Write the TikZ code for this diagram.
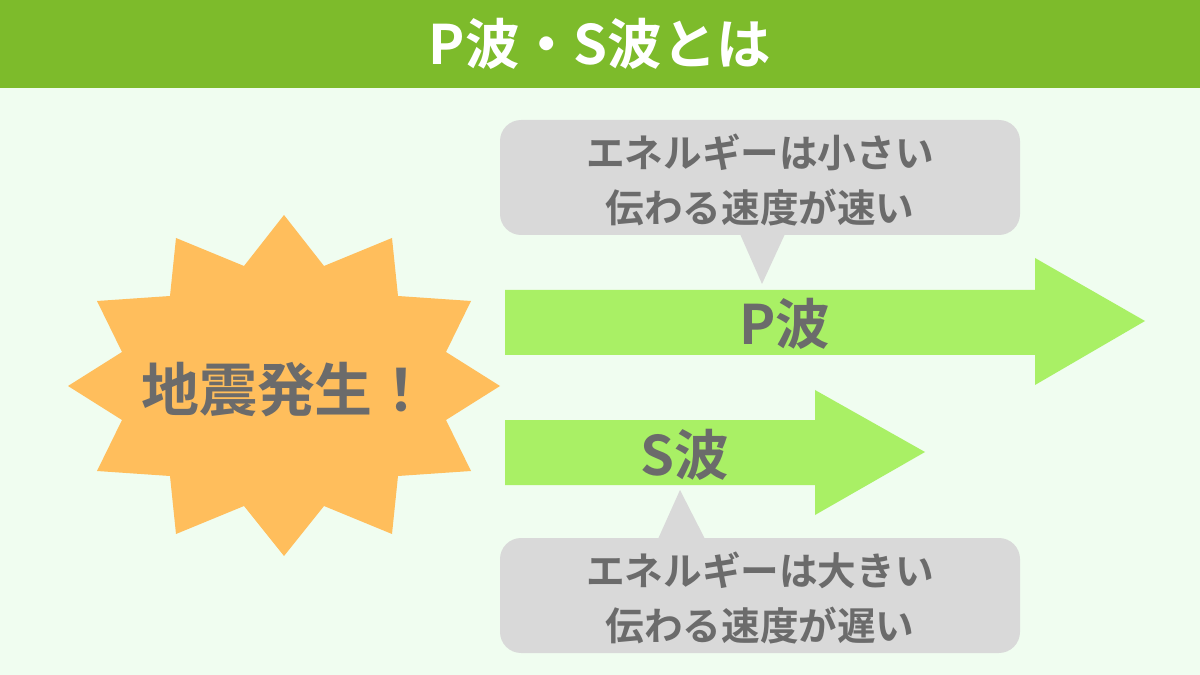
\documentclass[tikz,border=0pt]{standalone}
\usepackage{fontspec}
\setmainfont{Noto Sans CJK JP Bold}
\usetikzlibrary{positioning}
\definecolor{barGreen}{HTML}{7DBB2B}
\definecolor{bgMint}{HTML}{F0FDF0}
\definecolor{arrowGreen}{HTML}{A9F065}
\definecolor{burstOrange}{HTML}{FFBE5C}
\definecolor{calloutGray}{HTML}{D9D9D9}
\definecolor{textGray}{HTML}{6B6B6B}
\begin{document}
\begin{tikzpicture}[x=0.02cm,y=-0.02cm]
	\tikzset{label/.style={text=textGray, font=\fontsize{22}{31}\selectfont, align=center}}
	\tikzset{wave/.style={text=textGray, font=\fontsize{31}{36}\selectfont}}
	\tikzset{waveArrow/.style={fill=arrowGreen, draw=none}}
	\tikzset{callout/.style={fill=calloutGray, draw=none}}
	% background and title bar
	\fill[bgMint] (0,0) rectangle (1200,675);
	\useasboundingbox (0,0) rectangle (1200,675);
	\fill[barGreen] (0,0) rectangle (1200,88);
	\node (title) [text=white, font=\fontsize{31}{36}\selectfont] at (600,44) {P波・S波とは};
	% starburst
	\fill[burstOrange] (284,215) -- (324,266) -- (392,238) -- (398,296) -- (471,301) -- (446,352)
		-- (500,386) -- (446,420) -- (471,471) -- (398,476) -- (392,534) -- (324,506)
		-- (284,556) -- (244,506) -- (176,534) -- (170,476) -- (97,471) -- (122,420)
		-- (68,386) -- (122,352) -- (97,301) -- (170,296) -- (176,238) -- (244,266) -- cycle;
	\node (quake) [text=textGray, font=\fontsize{33}{38}\selectfont] at (286,390) {地震発生！};
	% arrows
	\fill[waveArrow] (505,290) -- (1035,290) -- (1035,258) -- (1145,321) -- (1035,385) -- (1035,355) -- (505,355) -- cycle;
	\fill[waveArrow] (505,420) -- (815,420) -- (815,390) -- (925,452) -- (815,515) -- (815,485) -- (505,485) -- cycle;
	\node (pwave) [wave] at (785,324) {P波};
	\node (swave) [wave] at (685,455) {S波};
	% callouts
	\fill[callout, rounded corners=12] (500,120) rectangle (1020,235);
	\fill[callout] (740,234) -- (785,234) -- (762,284) -- cycle;
	\node (pnote) [label] at (760,180) {エネルギーは小さい\\伝わる速度が速い};
	\fill[callout, rounded corners=12] (500,538) rectangle (1020,653);
	\fill[callout] (658,539) -- (705,539) -- (680,490) -- cycle;
	\node (snote) [label] at (760,598) {エネルギーは大きい\\伝わる速度が遅い};
\end{tikzpicture}
\end{document}
